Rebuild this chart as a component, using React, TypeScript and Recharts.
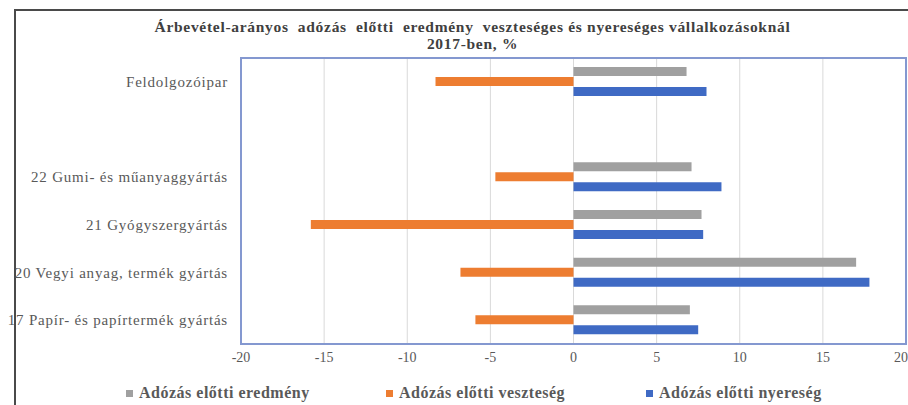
import { Bar, BarChart, CartesianGrid, Legend, ReferenceArea, XAxis, YAxis } from 'recharts'

const categories = [
  'Feldolgozóipar',
  '',
  '22 Gumi- és műanyaggyártás',
  '21 Gyógyszergyártás',
  '20 Vegyi anyag, termék gyártás',
  '17 Papír- és papírtermék gyártás',
]
const eredmeny = [6.8, null, 7.1, 7.7, 17.0, 7.0]
const veszteseg = [-8.3, null, -4.7, -15.8, -6.8, -5.9]
const nyereseg = [8.0, null, 8.9, 7.8, 17.8, 7.5]
const xTicks = [-20, -15, -10, -5, 0, 5, 10, 15, 20]

const seriesNames = {
  eredmeny: 'Adózás előtti eredmény',
  veszteseg: 'Adózás előtti veszteség',
  nyereseg: 'Adózás előtti nyereség',
}
const legendOrder = [seriesNames.eredmeny, seriesNames.veszteseg, seriesNames.nyereseg]

const data = categories.map((name, i) => ({
  name,
  eredmeny: eredmeny[i],
  veszteseg: veszteseg[i],
  nyereseg: nyereseg[i],
}))

const serif = "'Liberation Serif', 'Times New Roman', serif"

/** Legend in the Excel style: small square markers, bold serif labels. */
function ChartLegend({ payload }: { payload?: any[] }) {
  const items = [...(payload ?? [])].sort(
    (a, b) => legendOrder.indexOf(a.value) - legendOrder.indexOf(b.value),
  )
  return (
    <div style={{ display: 'flex', paddingLeft: 126, paddingTop: 10 }}>
      {items.map((item) => (
        <div
          key={item.value}
          style={{
            width: 262,
            display: 'flex',
            alignItems: 'center',
            fontFamily: serif,
            fontWeight: 'bold',
            fontSize: 16,
            letterSpacing: 0.5,
            color: '#595959',
          }}
        >
          <span style={{ width: 7, height: 7, background: item.color, marginRight: 6, display: 'inline-block' }} />
          {item.value}
        </div>
      ))}
    </div>
  )
}

function App() {
  return (
    <div style={{ position: 'fixed', left: 0, top: 0, width: 908, height: 405, overflow: 'hidden', background: '#fff' }}>
      <div
        style={{
          position: 'absolute',
          left: 14,
          top: 9,
          width: 1000,
          height: 500,
          borderLeft: '2px solid #4a4a4a',
          borderTop: '2px solid #4a4a4a',
        }}
      />
      <div
        style={{
          position: 'absolute',
          left: 0,
          top: 18,
          width: 945,
          textAlign: 'center',
          fontFamily: serif,
          fontWeight: 'bold',
          fontSize: 15.5,
          letterSpacing: 0.7,
          lineHeight: '17px',
          color: '#404040',
          whiteSpace: 'pre',
        }}
      >
        {'Árbevétel-arányos  adózás  előtti  eredmény  veszteséges és nyereséges vállalkozásoknál\n2017-ben, %'}
      </div>
      <div style={{ position: 'absolute', left: 0, top: 0 }}>
        <BarChart
          width={908}
          height={405}
          data={data}
          layout="vertical"
          margin={{ top: 58, right: 2, left: 0, bottom: 5 }}
          barSize={9}
          barGap={1}
        >
          <CartesianGrid horizontal={false} stroke="#d9d9d9" />
          <XAxis
            type="number"
            domain={[-20, 20]}
            ticks={xTicks}
            axisLine={false}
            tickLine={false}
            height={30}
            fontFamily={serif}
            tick={{ fontSize: 14, fill: '#595959' }}
          />
          <YAxis
            type="category"
            dataKey="name"
            width={241}
            axisLine={false}
            tickLine={false}
            tickMargin={7}
            fontFamily={serif}
            tick={{ fontSize: 15, fill: '#595959', style: { letterSpacing: 0.8 } }}
          />
          <ReferenceArea x1={-20} x2={20} fill="none" stroke="#8498d0" strokeWidth={2} />
          <Legend verticalAlign="bottom" height={26} content={<ChartLegend />} />
          <Bar dataKey="eredmeny" name={seriesNames.eredmeny} fill="#a0a0a0" isAnimationActive={false} />
          <Bar dataKey="veszteseg" name={seriesNames.veszteseg} fill="#ed7d31" isAnimationActive={false} />
          <Bar dataKey="nyereseg" name={seriesNames.nyereseg} fill="#3f6ac4" isAnimationActive={false} />
        </BarChart>
      </div>
    </div>
  )
}

export default App
